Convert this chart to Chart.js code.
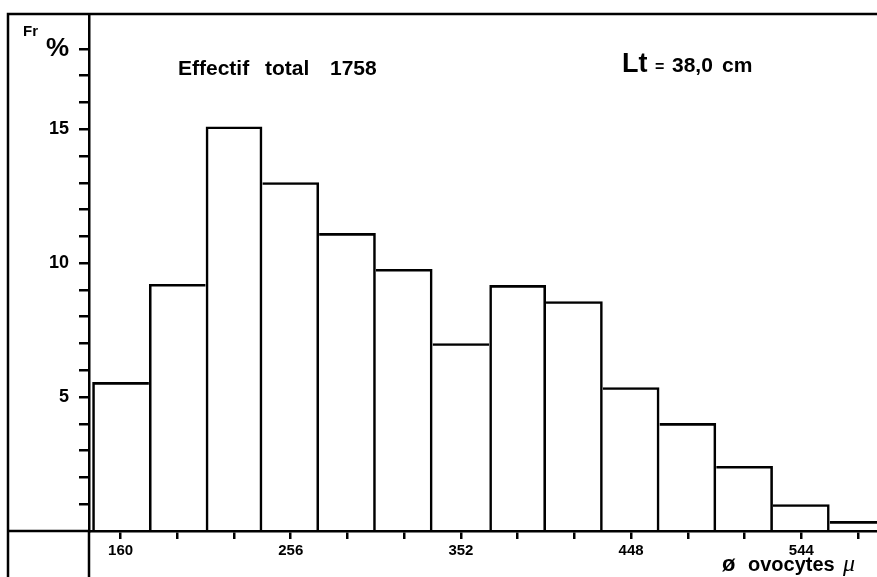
<!DOCTYPE html>
<html>
<head>
<meta charset="utf-8">
<script src="https://cdn.jsdelivr.net/npm/chart.js@4"></script>
<style>
  html, body { margin: 0; padding: 0; background: #fff; overflow: hidden; }
  #wrap { width: 877px; height: 577px; }
</style>
</head>
<body>
<div id="wrap"><canvas id="histo" width="877" height="577"></canvas></div>
<script>
// classes de diamètre des ovocytes (µ), centre de chaque classe
const diameters = [160, 192, 224, 256, 288, 320, 352, 384, 416, 448, 480, 512, 544, 576];
// fréquences (%)
const frequencies = [5.56, 9.22, 15.1, 13.02, 11.12, 9.78, 7.01, 9.18, 8.58, 5.37, 4.03, 2.43, 1.0, 0.37];
// graduations
const xTickValues = [160, 192, 224, 256, 288, 320, 352, 384, 416, 448, 480, 512, 544, 576];
const xLabelValues = [160, 256, 352, 448, 544];
const yTickValues = [1, 2, 3, 4, 5, 6, 7, 8, 9, 10, 11, 12, 13, 14, 15, 16, 17, 18];
const yLabelValues = [5, 10, 15, 18];
const yLabelTexts = ['5', '10', '15', '%'];

const FONT = '"Liberation Sans", Arial, sans-serif';
const LW = 2.6;

// le côté commun à deux barres est tracé par la plus haute -> un seul trait
function barBorder(ctx) {
    const i = ctx.dataIndex;
    if (i === undefined) return LW;
    const left = (i === 0 || frequencies[i] >= frequencies[i - 1]) ? LW : 0;
    const right = (i === frequencies.length - 1 || frequencies[i] > frequencies[i + 1]) ? LW : 0;
    return { top: LW, left: left, right: right, bottom: 0 };
}

// cadre + textes annexes
const framePlugin = {
    id: 'frame',
    afterDraw(chart) {
        const { ctx, chartArea } = chart;
        ctx.save();
        ctx.strokeStyle = '#000';
        ctx.lineWidth = 2.5;
        ctx.beginPath();
        ctx.moveTo(8, 577);
        ctx.lineTo(8, chartArea.top);
        ctx.lineTo(877, chartArea.top);
        ctx.moveTo(8, chartArea.bottom);
        ctx.lineTo(chartArea.left, chartArea.bottom);
        ctx.moveTo(chartArea.left, chartArea.bottom);
        ctx.lineTo(chartArea.left, 577);
        ctx.stroke();

        ctx.fillStyle = '#000';
        ctx.textBaseline = 'alphabetic';
        ctx.textAlign = 'left';

        ctx.font = 'bold 15px ' + FONT;
        ctx.fillText('Fr', 23, 36);

        ctx.font = 'bold 21px ' + FONT;
        ctx.fillText('Effectif', 178, 75);
        ctx.fillText('total', 265, 75);
        ctx.fillText('1758', 330, 75);

        ctx.font = 'bold 27px ' + FONT;
        ctx.fillText('Lt', 622, 72);
        ctx.font = 'bold 16px ' + FONT;
        ctx.fillText('=', 655, 72);
        ctx.font = 'bold 21px ' + FONT;
        ctx.fillText('38,0', 672, 72);
        ctx.fillText('cm', 722, 72);

        ctx.font = 'bold 22px ' + FONT;
        ctx.fillText('ø', 722, 571);
        ctx.font = 'bold 20px ' + FONT;
        ctx.fillText('ovocytes', 748, 571);
        ctx.font = 'italic 24px "Liberation Serif", serif';
        ctx.fillText('μ', 843, 571);
        ctx.restore();
    }
};

new Chart(document.getElementById('histo'), {
    type: 'bar',
    data: {
        datasets: [{
            data: diameters.map((d, i) => ({ x: d, y: frequencies[i] })),
            backgroundColor: 'rgba(0,0,0,0)',
            borderColor: '#000',
            borderWidth: barBorder,
            inflateAmount: 0,
            barPercentage: 1,
            categoryPercentage: 1
        }]
    },
    options: {
        responsive: false,
        animation: false,
        devicePixelRatio: 1,
        layout: { padding: { top: 14, right: 0, bottom: 0, left: 0 } },
        scales: {
            x: {
                type: 'linear',
                offset: false,
                min: 142.2,
                max: 586.7,
                afterBuildTicks: scale => { scale.ticks = xTickValues.map(v => ({ value: v })); },
                afterFit: scale => {
                    scale.height = 46;
                    scale.paddingLeft = 0;
                    scale.paddingRight = 0;
                },
                grid: { offset: false, drawOnChartArea: false, drawTicks: true, tickLength: 8, color: '#000', lineWidth: 2.5 },
                border: { display: true, color: '#000', width: 2.5 },
                ticks: {
                    autoSkip: false,
                    maxRotation: 0,
                    padding: 3,
                    color: '#000',
                    font: { family: FONT, size: 15, weight: 'bold' },
                    callback: v => xLabelValues.includes(v) ? String(v) : ''
                }
            },
            y: {
                min: 0,
                max: 19.3,
                afterBuildTicks: scale => { scale.ticks = yTickValues.map(v => ({ value: v })); },
                afterFit: scale => {
                    scale.width = 89;
                    scale.paddingTop = 0;
                    scale.paddingBottom = 0;
                },
                grid: { drawOnChartArea: false, drawTicks: true, tickLength: 10, color: '#000', lineWidth: 2.5 },
                border: { display: true, color: '#000', width: 2.5 },
                ticks: {
                    autoSkip: false,
                    padding: 10,
                    color: '#000',
                    font: ctx => ({ family: FONT, size: ctx.tick && ctx.tick.value === 18 ? 26 : 18, weight: 'bold' }),
                    callback: v => {
                        const i = yLabelValues.indexOf(v);
                        return i >= 0 ? yLabelTexts[i] : '';
                    }
                }
            }
        },
        plugins: {
            legend: { display: false },
            tooltip: { enabled: false }
        }
    },
    plugins: [framePlugin]
});
</script>
</body>
</html>
